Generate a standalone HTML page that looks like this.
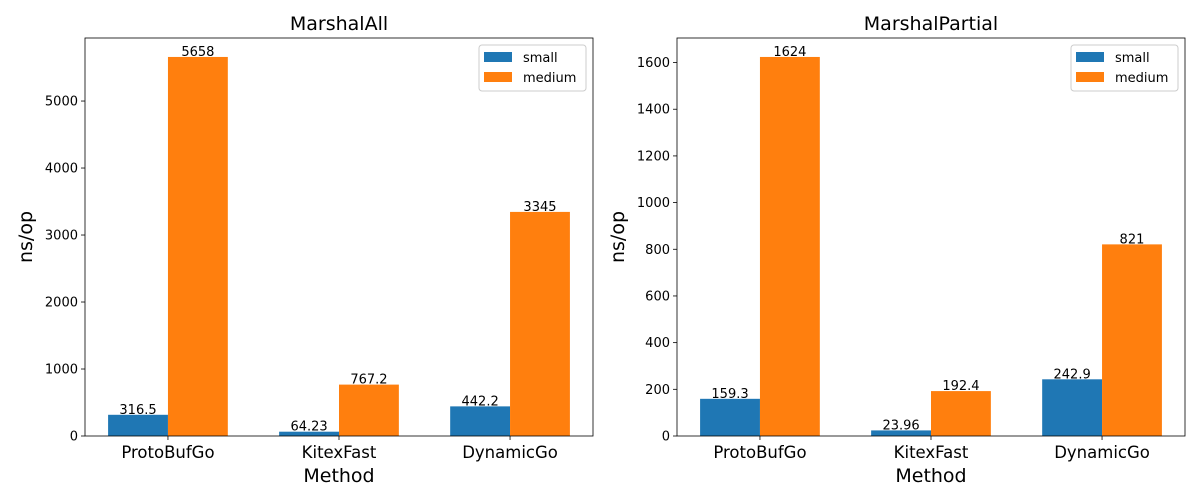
<!DOCTYPE html>
<html><head><meta charset="utf-8"><style>
body{margin:0;background:#fff;width:1200px;height:500px;overflow:hidden}
svg{display:block;font-family:"DejaVu Sans","Liberation Sans",sans-serif}
</style></head><body>
<svg id="c" width="1200" height="500"></svg>
<script>
const categories = ["ProtoBufGo","KitexFast","DynamicGo"];
const allSmall = [316.5, 64.23, 442.2];
const allMedium = [5658, 767.2, 3345];
const allLabelsSmall = ["316.5","64.23","442.2"];
const allLabelsMedium = ["5658","767.2","3345"];
const allTicks = [0,1000,2000,3000,4000,5000];
const partSmall = [159.3, 23.96, 242.9];
const partMedium = [1624, 192.4, 821];
const partLabelsSmall = ["159.3","23.96","242.9"];
const partLabelsMedium = ["1624","192.4","821"];
const partTicks = [0,200,400,600,800,1000,1200,1400,1600];

const svg = document.getElementById('c');
const NS = 'http://www.w3.org/2000/svg';
function mk(tag, attrs, parent){const e=document.createElementNS(NS,tag);for(const k in attrs)e.setAttribute(k,attrs[k]);(parent||svg).appendChild(e);return e;}

function panel(id, x0, x1, y0, y1, title, small, medium, lS, lM, ticks){
  const g = mk('g',{});
  
  
  const ymax = Math.max(...small, ...medium)*1.05;
  const ys = v => y1 - v/ymax*(y1-y0);
  const xmin=-0.485, xmax=categories.length-1+0.485;
  const xs = v => x0 + (v-xmin)/(xmax-xmin)*(x1-x0);
  const w = 0.35;
  categories.forEach((c,i)=>{
    const bs = mk('rect',{x:xs(i-w),y:ys(small[i]),width:xs(i)-xs(i-w),height:y1-ys(small[i]),fill:'#1f77b4'},g);
    
    
    const bm = mk('rect',{x:xs(i),y:ys(medium[i]),width:xs(i+w)-xs(i),height:y1-ys(medium[i]),fill:'#ff7f0e'},g);
    
    
    const t1 = mk('text',{x:xs(i-w/2),y:ys(small[i])-1,'font-size':13,'text-anchor':'middle'},g); t1.textContent=lS[i];
    
    
    const t2 = mk('text',{x:xs(i+w/2),y:ys(medium[i])-1,'font-size':13,'text-anchor':'middle'},g); t2.textContent=lM[i];
    
    
    mk('line',{x1:xs(i),x2:xs(i),y1:y1,y2:y1+4,stroke:'#000','stroke-width':0.8},g);
    const tl = mk('text',{x:xs(i),y:y1+22,'font-size':16.5,'text-anchor':'middle'},g); tl.textContent=c;
    
    
  });
  ticks.forEach(t=>{
    mk('line',{x1:x0-4,x2:x0,y1:ys(t),y2:ys(t),stroke:'#000','stroke-width':0.8},g);
    const tt = mk('text',{x:x0-7,y:ys(t)+4.5,'font-size':13,'text-anchor':'end'},g); tt.textContent=t;
    
    
  });
  mk('rect',{x:x0,y:y0,width:x1-x0,height:y1-y0,fill:'none',stroke:'#000','stroke-width':0.8},g);
  const ti = mk('text',{x:(x0+x1)/2,y:y0-8,'font-size':19,'text-anchor':'middle'},g); ti.textContent=title;
  
  
  const xl = mk('text',{x:(x0+x1)/2,y:y1+46,'font-size':19,'text-anchor':'middle'},g); xl.textContent='Method';
  
  
  const yl = mk('text',{x:0,y:0,'font-size':19,'text-anchor':'middle',transform:`translate(${x0-53},${(y0+y1)/2}) rotate(-90)`},g); yl.textContent='ns/op';
  
  
  const lg = mk('g',{},g);
  
  
  const lx = x1-114;
  mk('rect',{x:lx,y:y0+7,width:107,height:46,rx:3,fill:'#fff',stroke:'#ccc','stroke-width':1},lg);
  [['small','#1f77b4'],['medium','#ff7f0e']].forEach((s,k)=>{
    mk('rect',{x:lx+5,y:y0+14+k*20,width:28,height:10,fill:s[1]},lg);
    const lt = mk('text',{x:lx+44,y:y0+24+k*20,'font-size':13},lg); lt.textContent=s[0];
    
    
  });
}
panel('marshal-all',85,593,38,436,'MarshalAll',allSmall,allMedium,allLabelsSmall,allLabelsMedium,allTicks);
panel('marshal-partial',677,1185,38,436,'MarshalPartial',partSmall,partMedium,partLabelsSmall,partLabelsMedium,partTicks);
</script>
</body></html>
